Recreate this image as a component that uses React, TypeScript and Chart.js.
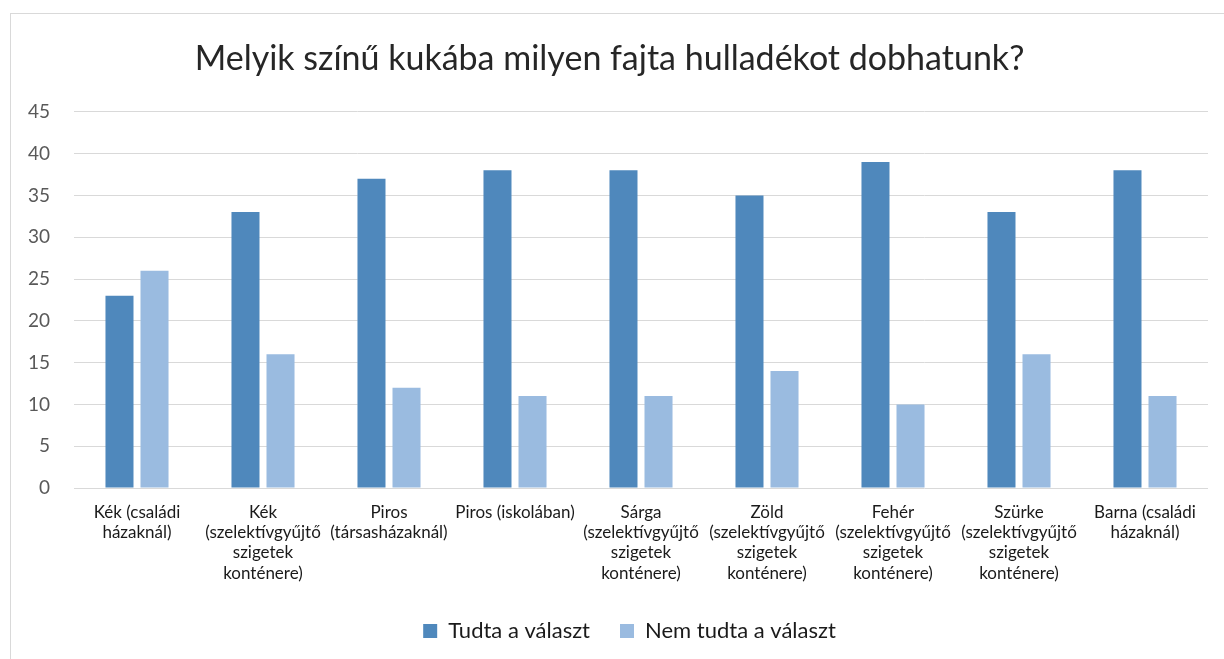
import React, { useEffect, useRef } from "react";
import { Chart, registerables } from "chart.js";

Chart.register(...registerables);

const TITLE = "Melyik színű kukába milyen fajta hulladékot dobhatunk?";
const categories: string[][] = [
  ["Kék (családi", "házaknál)"],
  ["Kék", "(szelektívgyűjtő", "szigetek", "konténere)"],
  ["Piros", "(társasházaknál)"],
  ["Piros (iskolában)"],
  ["Sárga", "(szelektívgyűjtő", "szigetek", "konténere)"],
  ["Zöld", "(szelektívgyűjtő", "szigetek", "konténere)"],
  ["Fehér", "(szelektívgyűjtő", "szigetek", "konténere)"],
  ["Szürke", "(szelektívgyűjtő", "szigetek", "konténere)"],
  ["Barna (családi", "házaknál)"],
];
const seriesNames = ["Tudta a választ", "Nem tudta a választ"];
const tudta = [23, 33, 37, 38, 38, 35, 39, 33, 38];
const nemTudta = [26, 16, 12, 11, 11, 14, 10, 16, 11];
const yMax = 45;
const yStep = 5;

const FONT = "Lato, 'Open Sans', sans-serif";

const legendShift = {
  id: "legendShift",
  afterLayout(chart: any) {
    const l = chart.legend;
    if (!l) return;
    const dx = 20;
    l.left += dx;
    l.right += dx;
    if (l.legendHitBoxes) {
      l.legendHitBoxes.forEach((h: any) => {
        h.left += dx;
      });
    }
  },
};

export default function App() {
  const ref = useRef<HTMLCanvasElement | null>(null);
  useEffect(() => {
    if (!ref.current) return;
    const chart = new Chart(ref.current, {
      type: "bar",
      data: {
        labels: categories,
        datasets: [
          {
            label: seriesNames[0],
            data: tudta,
            backgroundColor: "#4F88BC",
            categoryPercentage: 0.556,
            barPercentage: 0.8,
          },
          {
            label: seriesNames[1],
            data: nemTudta,
            backgroundColor: "#9ABBE0",
            categoryPercentage: 0.556,
            barPercentage: 0.8,
          },
        ],
      },
      plugins: [legendShift],
      options: {
        animation: false,
        responsive: false,
        maintainAspectRatio: false,
        layout: { padding: { left: 0, right: 21, top: 0, bottom: 22 } },
        plugins: {
          title: {
            display: true,
            text: TITLE,
            color: "#262626",
            font: { family: FONT, size: 34, weight: "normal", lineHeight: 1.2 },
            padding: { top: 25, bottom: 32 },
          },
          legend: {
            position: "bottom",
            labels: {
              color: "#1a1a1a",
              font: { family: FONT, size: 22 },
              boxWidth: 14,
              boxHeight: 14,
              padding: 30,
            },
          },
          tooltip: { enabled: false },
        },
        scales: {
          x: {
            grid: { display: false, drawTicks: false },
            border: { display: false },
            ticks: {
              color: "#1a1a1a",
              font: { family: FONT, size: 17, lineHeight: 1.2 },
              padding: 14,
              maxRotation: 0,
              autoSkip: false,
            },
            afterFit: (s: any) => {
              s.height = 102;
            },
          },
          y: {
            min: 0,
            max: yMax,
            grid: { color: "#d9d9d9", lineWidth: 1, drawTicks: false },
            border: { display: false },
            ticks: {
              stepSize: yStep,
              color: "#595959",
              font: { family: FONT, size: 19 },
              padding: 24,
            },
            afterFit: (s: any) => {
              s.width = 63;
            },
          },
        },
      },
    });
    return () => chart.destroy();
  }, []);

  return (
    <div
      style={{
        position: "fixed",
        left: 0,
        top: 0,
        width: 1224,
        height: 659,
        overflow: "hidden",
        background: "#fff",
      }}
    >
      <div
        style={{
          position: "absolute",
          left: 10,
          top: 13,
          width: 1218,
          height: 660,
          border: "1px solid #d9d9d9",
        }}
      >
        <canvas ref={ref} width={1218} height={660} style={{ display: "block" }} />
      </div>
    </div>
  );
}
